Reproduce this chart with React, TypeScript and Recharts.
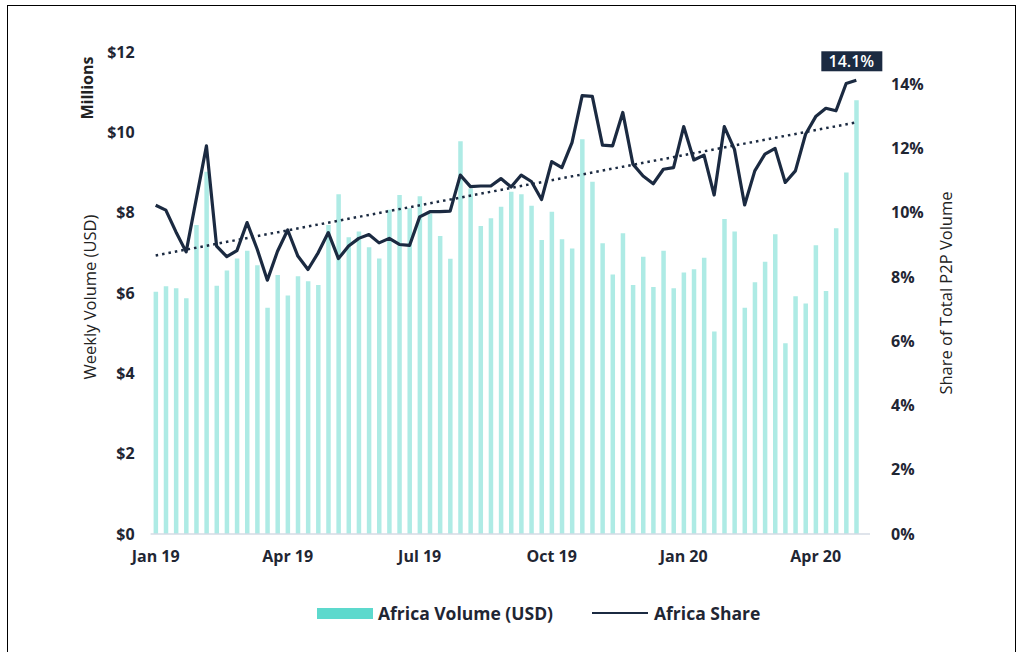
import React from "react";
import { ComposedChart, Bar, Line, XAxis, YAxis, ReferenceLine, LabelList } from "recharts";

// weekly Africa P2P volume, USD millions (Jan 2019 - May 2020)
const volume = [
  6.03, 6.17, 6.12, 5.87, 7.69, 9.02, 6.18, 6.56, 6.86, 7.05,
  6.69, 5.63, 6.45, 5.94, 6.42, 6.29, 6.2, 7.69, 8.46, 7.39,
  7.53, 7.14, 6.86, 8.07, 8.44, 8.11, 8.41, 7.98, 7.42, 6.85,
  9.78, 8.6, 7.67, 7.86, 8.15, 8.52, 8.46, 8.17, 7.32, 8.02,
  7.34, 7.11, 9.83, 8.77, 7.24, 6.46, 7.49, 6.2, 6.9, 6.15,
  7.05, 6.12, 6.51, 6.59, 6.88, 5.04, 7.84, 7.53, 5.63, 6.27,
  6.78, 7.46, 4.75, 5.92, 5.74, 7.19, 6.05, 7.61, 9.0, 10.8,
];

// Africa share of total P2P volume, %
const share = [
  10.23, 10.08, 9.4, 8.78, 10.43, 12.08, 8.96, 8.63, 8.82, 9.69,
  8.86, 7.9, 8.8, 9.46, 8.65, 8.23, 8.75, 9.38, 8.57, 8.96,
  9.2, 9.32, 9.06, 9.2, 9.01, 8.98, 9.87, 10.03, 10.03, 10.05,
  11.17, 10.81, 10.83, 10.83, 11.06, 10.8, 11.17, 10.97, 10.41, 11.59,
  11.4, 12.18, 13.64, 13.62, 12.1, 12.08, 13.12, 11.51, 11.14, 10.9,
  11.35, 11.4, 12.68, 11.64, 11.79, 10.55, 12.68, 11.97, 10.24, 11.3,
  11.82, 12.0, 10.94, 11.3, 12.44, 12.99, 13.25, 13.17, 14.02, 14.12,
];

// dotted trend line ends (%)
const trendStart = 8.67;
const trendEnd = 12.81;

const tickWeeks = [1, 14, 27, 40, 53, 66];
const tickLabels = ["Jan 19", "Apr 19", "Jul 19", "Oct 19", "Jan 20", "Apr 20"];
const volumeTicks = [0, 2, 4, 6, 8, 10, 12];
const shareTicks = [0, 2, 4, 6, 8, 10, 12, 14];

const data = volume.map((v, i) => ({ week: i + 1, volume: v, share: share[i] }));

const NAVY = "#1b2a41";
const FONT = "'Open Sans', sans-serif";
const tickStyle = { fontFamily: FONT, fontSize: 16, fontWeight: 700, fill: "#1f2633" };

type Box = { x: number; y: number; width: number; height: number };

const LeftTitle = ({ viewBox }: { viewBox?: Box }) => {
  if (!viewBox) return null;
  const x = viewBox.x - 1.6;
  const y = viewBox.y + viewBox.height / 2 + 4;
  const mx = viewBox.x - 3.6;
  const my = viewBox.y + 36;
  return (
    <g>
      <text
        x={x}
        y={y}
        transform={`rotate(-90 ${x} ${y})`}
        textAnchor="middle"
        dominantBaseline="central"
        style={{ fontFamily: FONT, fontSize: 16.5, fontWeight: 500, fill: "#222" }}
      >
        Weekly Volume (USD)
      </text>
      <text
        x={mx}
        y={my}
        transform={`rotate(-90 ${mx} ${my})`}
        textAnchor="middle"
        dominantBaseline="central"
        style={{ fontFamily: FONT, fontSize: 16, fontWeight: 700, fill: "#222" }}
      >
        Millions
      </text>
    </g>
  );
};

const RightTitle = ({ viewBox }: { viewBox?: Box }) => {
  if (!viewBox) return null;
  const x = viewBox.x + 75;
  const y = viewBox.y + viewBox.height / 2;
  return (
    <text
      x={x}
      y={y}
      transform={`rotate(-90 ${x} ${y})`}
      textAnchor="middle"
      dominantBaseline="central"
      style={{ fontFamily: FONT, fontSize: 16.5, fontWeight: 500, fill: "#222" }}
    >
      Share of Total P2P Volume
    </text>
  );
};

const LastValueTag = (props: any) => {
  const { x, y, value, index } = props;
  if (index !== data.length - 1) return null;
  const cx = x - 5;
  return (
    <g>
      <rect x={cx - 30} y={y - 29} width={61} height={20} fill={NAVY} />
      <text
        x={cx}
        y={y - 19}
        textAnchor="middle"
        dominantBaseline="central"
        style={{ fontFamily: FONT, fontSize: 16, fontWeight: 600, fill: "#fff" }}
      >
        {`${Number(value).toFixed(1)}%`}
      </text>
    </g>
  );
};

export default function App() {
  return (
    <div style={{ position: "absolute", left: 0, top: 0, width: 1023, height: 652, background: "#fff", overflow: "hidden" }}>
      <div
        style={{
          position: "absolute",
          left: 7,
          top: 5,
          width: 1009,
          height: 700,
          border: "1px solid #000",
          boxSizing: "border-box",
        }}
      />
      <ComposedChart
        width={1023}
        height={652}
        data={data}
        margin={{ top: 52, right: 93, bottom: 88, left: 90.6 }}
        barCategoryGap={0}
        style={{ position: "absolute", left: 0, top: 0 }}
      >
        <XAxis
          dataKey="week"
          ticks={tickWeeks}
          interval={0}
          tickFormatter={(w) => tickLabels[tickWeeks.indexOf(w)] ?? ""}
          tick={tickStyle}
          tickLine={false}
          tickSize={0}
          tickMargin={17}
          axisLine={{ stroke: "#d5dbe5", strokeWidth: 1.5 }}
          padding={{ left: 0, right: 8.6 }}
          height={30}
        />
        <YAxis
          yAxisId="left"
          domain={[0, 12]}
          ticks={volumeTicks}
          tickFormatter={(v) => `$${v}`}
          tick={tickStyle}
          axisLine={false}
          tickLine={false}
          tickSize={0}
          tickMargin={16}
          width={60}
          label={<LeftTitle />}
        />
        <YAxis
          yAxisId="right"
          orientation="right"
          domain={[0, 15]}
          ticks={shareTicks}
          tickFormatter={(v) => `${v}%`}
          tick={{ ...tickStyle, textAnchor: "start" }}
          axisLine={false}
          tickLine={false}
          tickSize={0}
          tickMargin={21}
          width={60}
          label={<RightTitle />}
        />
        <Bar
          yAxisId="left"
          dataKey="volume"
          name="Africa Volume (USD)"
          fill="#aeebe5"
          barSize={4.5}
          isAnimationActive={false}
        />
        <ReferenceLine
          yAxisId="right"
          segment={[
            { x: data[0].week, y: trendStart },
            { x: data[data.length - 1].week, y: trendEnd },
          ]}
          stroke={NAVY}
          strokeWidth={2.5}
          strokeDasharray="2.5 4"
        />
        <Line
          yAxisId="right"
          type="linear"
          dataKey="share"
          name="Africa Share"
          stroke={NAVY}
          strokeWidth={3.2}
          strokeLinejoin="round"
          dot={false}
          activeDot={false}
          isAnimationActive={false}
        >
          <LabelList dataKey="share" content={<LastValueTag />} />
        </Line>
      </ComposedChart>
      <div
        style={{
          position: "absolute",
          top: 602,
          left: 0,
          width: 1023,
          height: 22,
          fontFamily: FONT,
          fontSize: 17.5,
          fontWeight: 700,
          color: "#1f2633",
        }}
      >
        <div style={{ position: "absolute", left: 317, top: 6, width: 56, height: 11, background: "#5dd9cd" }} />
        <div style={{ position: "absolute", left: 378, top: 0, lineHeight: "22px", whiteSpace: "nowrap" }}>
          Africa Volume (USD)
        </div>
        <div style={{ position: "absolute", left: 592, top: 10, width: 56, height: 2, background: NAVY }} />
        <div style={{ position: "absolute", left: 654, top: 0, lineHeight: "22px", whiteSpace: "nowrap" }}>
          Africa Share
        </div>
      </div>
    </div>
  );
}
